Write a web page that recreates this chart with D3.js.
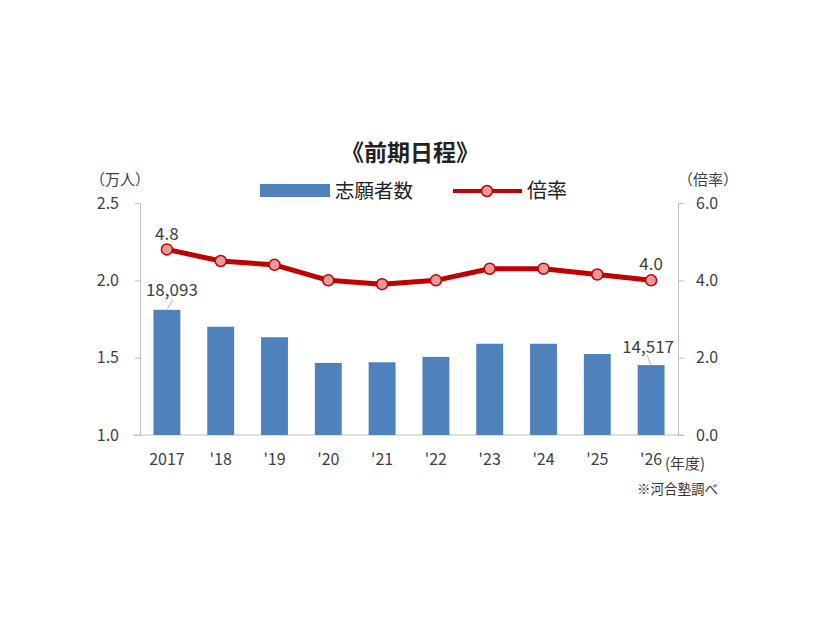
<!DOCTYPE html>
<html>
<head>
<meta charset="utf-8">
<script src="https://cdn.jsdelivr.net/npm/d3@7"></script>
<style>
  body { margin: 0; background: #fff; }
  text { font-family: "Noto Sans CJK JP", "Noto Sans", sans-serif; }
</style>
</head>
<body>
<div id="canvas"></div>
<script>
// Data
const years = ["2017", "'18", "'19", "'20", "'21", "'22", "'23", "'24", "'25", "'26"];
const applicants = [18093, 17000, 16320, 14660, 14700, 15050, 15900, 15900, 15240, 14517];
const rates = [4.8, 4.5, 4.4, 4.0, 3.9, 4.0, 4.3, 4.3, 4.15, 4.0];
const leftTicks = [1.0, 1.5, 2.0, 2.5];
const rightTicks = [0, 2, 4, 6];

// Constants
const w = 826;
const h = 620;
const plotLeft = 140, plotRight = 678, plotTop = 203, plotBottom = 435;
const blue = "#4f81bd";
const red = "#c00000";
const grey = "#404040";

const x = d3.scaleBand().domain(years).range([plotLeft, plotRight]).paddingInner(0.5).paddingOuter(0.25);
const yLeft = d3.scaleLinear().domain([1.0, 2.5]).range([plotBottom, plotTop]);
const yRight = d3.scaleLinear().domain([0, 6]).range([plotBottom, plotTop]);

const svg = d3.select("#canvas").append("svg")
  .attr("width", w)
  .attr("height", h)
  .style("background-color", "white");

// Title
svg.append("text")
  .attr("x", 410).attr("y", 161)
  .attr("text-anchor", "middle")
  .attr("fill", "#222")
  .style("font-size", "23px")
  .style("font-weight", "bold")
  .text("《前期日程》");

// Legend
svg.append("rect")
  .attr("x", 260).attr("y", 184).attr("width", 70).attr("height", 13)
  .attr("fill", blue);
svg.append("text")
  .attr("x", 335).attr("y", 198)
  .attr("fill", "#222")
  .style("font-size", "19.5px")
  .text("志願者数");
svg.append("line")
  .attr("x1", 453).attr("x2", 522).attr("y1", 191).attr("y2", 191)
  .attr("stroke", red).attr("stroke-width", 4);
svg.append("circle")
  .attr("cx", 487).attr("cy", 191).attr("r", 5.5)
  .attr("fill", "#e8999a").attr("stroke", red).attr("stroke-width", 1.5);
svg.append("text")
  .attr("x", 527).attr("y", 198)
  .attr("fill", "#222")
  .style("font-size", "20px")
  .text("倍率");

// Axes
const axisLeft = svg.append("g")
  .attr("transform", `translate(${plotLeft},0)`)
  .call(d3.axisLeft(yLeft).tickValues(leftTicks).tickFormat(d3.format(".1f")).tickSize(5).tickPadding(16));
const axisRight = svg.append("g")
  .attr("transform", `translate(${plotRight},0)`)
  .call(d3.axisRight(yRight).tickValues(rightTicks).tickFormat(d3.format(".1f")).tickSize(6).tickPadding(12));
const axisBottom = svg.append("g")
  .attr("transform", `translate(0,${plotBottom})`)
  .call(d3.axisBottom(x).tickSize(0).tickPadding(19));

[axisLeft, axisRight, axisBottom].forEach(g => {
  g.select(".domain").attr("stroke", "#bfbfbf");
  g.selectAll(".tick line").attr("stroke", "#bfbfbf");
  g.selectAll(".tick text")
    .attr("fill", grey)
    .style("font-family", "'Noto Sans CJK JP', sans-serif")
    .style("font-size", "16px");
});
axisBottom.select(".domain").attr("d", `M${plotLeft - 7},0H${plotRight + 6}`);

// Axis titles
svg.append("text")
  .attr("x", 120).attr("y", 185)
  .attr("text-anchor", "middle")
  .attr("fill", grey)
  .style("font-size", "15px")
  .text("（万人）");
svg.append("text")
  .attr("x", 708).attr("y", 185)
  .attr("text-anchor", "middle")
  .attr("fill", grey)
  .style("font-size", "15px")
  .text("（倍率）");
svg.append("text")
  .attr("x", 665).attr("y", 469)
  .attr("fill", grey)
  .style("font-size", "15px")
  .text("(年度)");
svg.append("text")
  .attr("x", 718).attr("y", 494)
  .attr("text-anchor", "end")
  .attr("fill", "#333")
  .style("font-size", "13.5px")
  .text("※河合塾調べ");

// Bars
svg.append("g").selectAll("rect")
  .data(applicants)
  .join("rect")
  .attr("x", (d, i) => x(years[i]))
  .attr("y", d => yLeft(d / 10000))
  .attr("width", x.bandwidth())
  .attr("height", d => plotBottom - yLeft(d / 10000))
  .attr("fill", blue);

// Rate line
const line = d3.line()
  .x((d, i) => x(years[i]) + x.bandwidth() / 2)
  .y(d => yRight(d));
svg.append("path")
  .datum(rates)
  .attr("d", line)
  .attr("fill", "none")
  .attr("stroke", red)
  .attr("stroke-width", 5)
  .attr("stroke-linejoin", "round");
svg.append("g").selectAll("circle")
  .data(rates)
  .join("circle")
  .attr("cx", (d, i) => x(years[i]) + x.bandwidth() / 2)
  .attr("cy", d => yRight(d))
  .attr("r", 5.5)
  .attr("fill", "#e8999a")
  .attr("stroke", red)
  .attr("stroke-width", 1.5);

// Data labels
const last = years.length - 1;
const cx = i => x(years[i]) + x.bandwidth() / 2;
svg.append("text")
  .attr("x", cx(0)).attr("y", yRight(rates[0]) - 9)
  .attr("text-anchor", "middle").attr("fill", grey)
  .style("font-size", "17px")
  .text(rates[0].toFixed(1));
svg.append("text")
  .attr("x", cx(last)).attr("y", yRight(rates[last]) - 10)
  .attr("text-anchor", "middle").attr("fill", grey)
  .style("font-size", "17px")
  .text(rates[last].toFixed(1));

svg.append("text")
  .attr("x", cx(0) + 5).attr("y", yLeft(applicants[0] / 10000) - 14)
  .attr("text-anchor", "middle").attr("fill", grey)
  .style("font-size", "17px")
  .text(d3.format(",")(applicants[0]));
svg.append("line")
  .attr("x1", cx(0)).attr("y1", yLeft(applicants[0] / 10000))
  .attr("x2", cx(0) + 6).attr("y2", yLeft(applicants[0] / 10000) - 10)
  .attr("stroke", "#a6a6a6").attr("stroke-width", 0.8);
svg.append("text")
  .attr("x", cx(last) - 3).attr("y", yLeft(applicants[last] / 10000) - 12)
  .attr("text-anchor", "middle").attr("fill", grey)
  .style("font-size", "17px")
  .text(d3.format(",")(applicants[last]));
svg.append("line")
  .attr("x1", cx(last) - 4).attr("y1", yLeft(applicants[last] / 10000) - 10)
  .attr("x2", cx(last)).attr("y2", yLeft(applicants[last] / 10000))
  .attr("stroke", "#a6a6a6").attr("stroke-width", 0.8);
</script>
</body>
</html>
